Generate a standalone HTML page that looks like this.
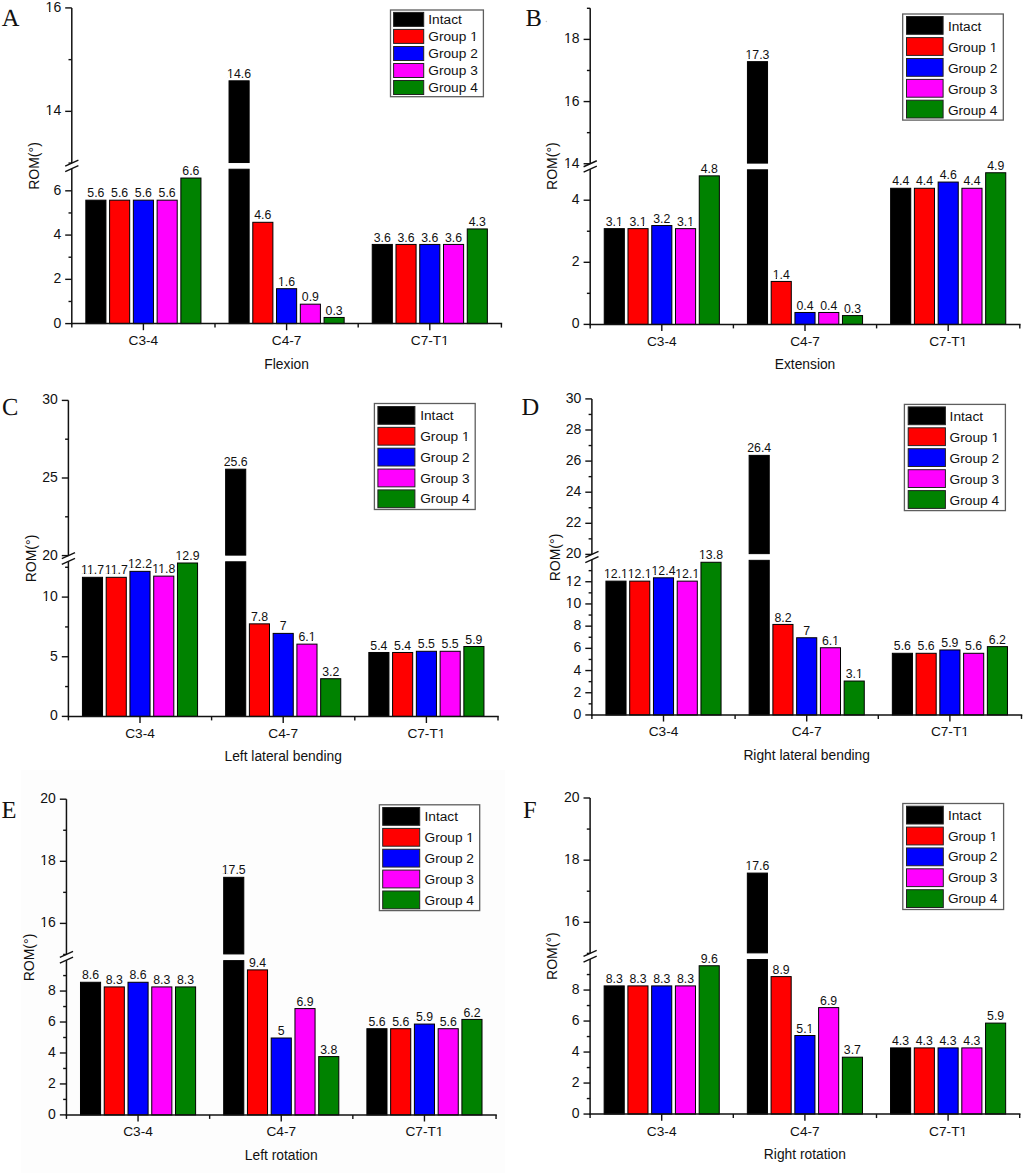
<!DOCTYPE html>
<html><head><meta charset="utf-8"><title>ROM</title>
<style>
html,body{margin:0;padding:0;background:#fff;}
body{width:1024px;height:1173px;overflow:hidden;}
svg{display:block;}
text{font-family:"Liberation Sans",sans-serif;fill:#111;}
.v{font-size:12.3px;text-anchor:middle;}
.tl{font-size:14px;text-anchor:end;}
.cl{font-size:13.7px;text-anchor:middle;}
.xt{font-size:13.8px;text-anchor:middle;}
.lg{font-size:13.7px;}
.rom{font-size:14px;text-anchor:middle;}
.let{font-family:"Liberation Serif",serif;font-size:24.5px;text-rendering:geometricPrecision;}
.ax{stroke:#111;stroke-width:1.5;}
.tk{stroke:#111;stroke-width:1.4;}
.br{stroke:#111;stroke-width:1.4;}
</style></head><body>
<svg width="1024" height="1173" viewBox="0 0 1024 1173">
<rect x="0" y="0" width="1024" height="1173" fill="#fff"/>
<rect x="21" y="770" width="484" height="403" fill="#fdfdfd"/>

<g>
<rect x="85.84" y="200.17" width="20.1" height="123.43" fill="#000000" stroke="#000" stroke-width="1"/>
<text x="95.89" y="197.27" class="v">5.6</text>
<rect x="109.59" y="200.17" width="20.1" height="123.43" fill="#ff0000" stroke="#000" stroke-width="1"/>
<text x="119.64" y="197.27" class="v">5.6</text>
<rect x="133.35" y="200.17" width="20.1" height="123.43" fill="#0000ff" stroke="#000" stroke-width="1"/>
<text x="143.4" y="197.27" class="v">5.6</text>
<rect x="157.11" y="200.17" width="20.1" height="123.43" fill="#ff00ff" stroke="#000" stroke-width="1"/>
<text x="167.16" y="197.27" class="v">5.6</text>
<rect x="180.86" y="178.04" width="20.1" height="145.56" fill="#008200" stroke="#000" stroke-width="1"/>
<text x="190.91" y="175.14" class="v">6.6</text>
<rect x="229.04" y="169.23" width="20.1" height="154.37" fill="#000000" stroke="#000" stroke-width="1"/>
<rect x="229.04" y="80.82" width="20.1" height="81.71" fill="#000000" stroke="#000" stroke-width="1"/>
<text x="239.09" y="77.92" class="v">14.6</text>
<rect x="252.79" y="222.3" width="20.1" height="101.3" fill="#ff0000" stroke="#000" stroke-width="1"/>
<text x="262.84" y="219.4" class="v">4.6</text>
<rect x="276.55" y="288.69" width="20.1" height="34.91" fill="#0000ff" stroke="#000" stroke-width="1"/>
<text x="286.6" y="285.79" class="v">1.6</text>
<rect x="300.31" y="304.18" width="20.1" height="19.42" fill="#ff00ff" stroke="#000" stroke-width="1"/>
<text x="310.36" y="301.28" class="v">0.9</text>
<rect x="324.06" y="317.46" width="20.1" height="6.14" fill="#008200" stroke="#000" stroke-width="1"/>
<text x="334.11" y="314.56" class="v">0.3</text>
<rect x="372.24" y="244.43" width="20.1" height="79.17" fill="#000000" stroke="#000" stroke-width="1"/>
<text x="382.29" y="241.53" class="v">3.6</text>
<rect x="395.99" y="244.43" width="20.1" height="79.17" fill="#ff0000" stroke="#000" stroke-width="1"/>
<text x="406.04" y="241.53" class="v">3.6</text>
<rect x="419.75" y="244.43" width="20.1" height="79.17" fill="#0000ff" stroke="#000" stroke-width="1"/>
<text x="429.8" y="241.53" class="v">3.6</text>
<rect x="443.51" y="244.43" width="20.1" height="79.17" fill="#ff00ff" stroke="#000" stroke-width="1"/>
<text x="453.56" y="241.53" class="v">3.6</text>
<rect x="467.26" y="228.94" width="20.1" height="94.66" fill="#008200" stroke="#000" stroke-width="1"/>
<text x="477.31" y="226.04" class="v">4.3</text>
<line x1="71.8" y1="324.35" x2="71.8" y2="168.69" class="ax"/>
<line x1="71.8" y1="163.07" x2="71.8" y2="7.91" class="ax"/>
<line x1="65.2" y1="171.69" x2="78.4" y2="165.69" class="br"/>
<line x1="65.2" y1="166.07" x2="78.4" y2="160.07" class="br"/>
<line x1="65.2" y1="323.6" x2="71.8" y2="323.6" class="tk"/>
<text x="61.2" y="327.6" class="tl">0</text>
<line x1="65.2" y1="279.34" x2="71.8" y2="279.34" class="tk"/>
<text x="61.2" y="283.34" class="tl">2</text>
<line x1="65.2" y1="235.08" x2="71.8" y2="235.08" class="tk"/>
<text x="61.2" y="239.08" class="tl">4</text>
<line x1="65.2" y1="190.82" x2="71.8" y2="190.82" class="tk"/>
<text x="61.2" y="194.82" class="tl">6</text>
<line x1="68.5" y1="301.47" x2="71.8" y2="301.47" class="tk"/>
<line x1="68.5" y1="257.21" x2="71.8" y2="257.21" class="tk"/>
<line x1="68.5" y1="212.95" x2="71.8" y2="212.95" class="tk"/>
<line x1="65.2" y1="111.35" x2="71.8" y2="111.35" class="tk"/>
<text x="61.2" y="115.35" class="tl">14</text>
<line x1="65.2" y1="7.91" x2="71.8" y2="7.91" class="tk"/>
<text x="61.2" y="11.91" class="tl">16</text>
<line x1="68.5" y1="163.07" x2="71.8" y2="163.07" class="tk"/>
<line x1="68.5" y1="59.63" x2="71.8" y2="59.63" class="tk"/>
<line x1="71.05" y1="323.6" x2="502.15" y2="323.6" class="ax"/>
<line x1="71.8" y1="323.6" x2="71.8" y2="327.6" class="tk"/>
<line x1="215" y1="323.6" x2="215" y2="327.6" class="tk"/>
<line x1="358.2" y1="323.6" x2="358.2" y2="327.6" class="tk"/>
<line x1="501.4" y1="323.6" x2="501.4" y2="327.6" class="tk"/>
<line x1="143.4" y1="323.6" x2="143.4" y2="330.2" class="tk"/>
<text x="143.4" y="345.1" class="cl">C3-4</text>
<line x1="286.6" y1="323.6" x2="286.6" y2="330.2" class="tk"/>
<text x="286.6" y="345.1" class="cl">C4-7</text>
<line x1="429.8" y1="323.6" x2="429.8" y2="330.2" class="tk"/>
<text x="429.8" y="345.1" class="cl">C7-T1</text>
<text x="286.6" y="368.6" class="xt">Flexion</text>
<text transform="translate(39.1 166) rotate(-90)" class="rom">ROM(&#176;)</text>
<text transform="translate(1.8 25.9) scale(1.0 1.0)" class="let">A</text>
<rect x="390.5" y="10" width="92.9" height="86.7" fill="#fff" stroke="#5e5e5e" stroke-width="1.3"/>
<rect x="393.6" y="12.4" width="30.1" height="14" fill="#000000" stroke="#222" stroke-width="1"/>
<text x="428.3" y="24" class="lg">Intact</text>
<rect x="393.6" y="29.4" width="30.1" height="14" fill="#ff0000" stroke="#222" stroke-width="1"/>
<text x="428.3" y="41" class="lg">Group 1</text>
<rect x="393.6" y="46.5" width="30.1" height="14" fill="#0000ff" stroke="#222" stroke-width="1"/>
<text x="428.3" y="58.1" class="lg">Group 2</text>
<rect x="393.6" y="63.5" width="30.1" height="14" fill="#ff00ff" stroke="#222" stroke-width="1"/>
<text x="428.3" y="75.1" class="lg">Group 3</text>
<rect x="393.6" y="80.5" width="30.1" height="14" fill="#008200" stroke="#222" stroke-width="1"/>
<text x="428.3" y="92.1" class="lg">Group 4</text>
</g>
<g>
<rect x="604.24" y="228.64" width="20.1" height="95.75" fill="#000000" stroke="#000" stroke-width="1"/>
<text x="614.29" y="225.74" class="v">3.1</text>
<rect x="627.99" y="228.64" width="20.1" height="95.75" fill="#ff0000" stroke="#000" stroke-width="1"/>
<text x="638.04" y="225.74" class="v">3.1</text>
<rect x="651.75" y="225.54" width="20.1" height="98.86" fill="#0000ff" stroke="#000" stroke-width="1"/>
<text x="661.8" y="222.64" class="v">3.2</text>
<rect x="675.51" y="228.64" width="20.1" height="95.75" fill="#ff00ff" stroke="#000" stroke-width="1"/>
<text x="685.56" y="225.74" class="v">3.1</text>
<rect x="699.26" y="175.86" width="20.1" height="148.54" fill="#008200" stroke="#000" stroke-width="1"/>
<text x="709.31" y="172.96" class="v">4.8</text>
<rect x="747.44" y="169.8" width="20.1" height="154.6" fill="#000000" stroke="#000" stroke-width="1"/>
<rect x="747.44" y="61.65" width="20.1" height="101.45" fill="#000000" stroke="#000" stroke-width="1"/>
<text x="757.49" y="58.75" class="v">17.3</text>
<rect x="771.19" y="281.43" width="20.1" height="42.97" fill="#ff0000" stroke="#000" stroke-width="1"/>
<text x="781.24" y="278.53" class="v">1.4</text>
<rect x="794.95" y="312.48" width="20.1" height="11.92" fill="#0000ff" stroke="#000" stroke-width="1"/>
<text x="805" y="309.58" class="v">0.4</text>
<rect x="818.71" y="312.48" width="20.1" height="11.92" fill="#ff00ff" stroke="#000" stroke-width="1"/>
<text x="828.76" y="309.58" class="v">0.4</text>
<rect x="842.46" y="315.58" width="20.1" height="8.81" fill="#008200" stroke="#000" stroke-width="1"/>
<text x="852.51" y="312.69" class="v">0.3</text>
<rect x="890.64" y="188.28" width="20.1" height="136.12" fill="#000000" stroke="#000" stroke-width="1"/>
<text x="900.69" y="185.38" class="v">4.4</text>
<rect x="914.39" y="188.28" width="20.1" height="136.12" fill="#ff0000" stroke="#000" stroke-width="1"/>
<text x="924.44" y="185.38" class="v">4.4</text>
<rect x="938.15" y="182.07" width="20.1" height="142.33" fill="#0000ff" stroke="#000" stroke-width="1"/>
<text x="948.2" y="179.17" class="v">4.6</text>
<rect x="961.91" y="188.28" width="20.1" height="136.12" fill="#ff00ff" stroke="#000" stroke-width="1"/>
<text x="971.96" y="185.38" class="v">4.4</text>
<rect x="985.66" y="172.75" width="20.1" height="151.65" fill="#008200" stroke="#000" stroke-width="1"/>
<text x="995.71" y="169.85" class="v">4.9</text>
<line x1="590.2" y1="325.15" x2="590.2" y2="169.15" class="ax"/>
<line x1="590.2" y1="163.75" x2="590.2" y2="8.3" class="ax"/>
<line x1="583.6" y1="172.15" x2="596.8" y2="166.15" class="br"/>
<line x1="583.6" y1="166.75" x2="596.8" y2="160.75" class="br"/>
<line x1="583.6" y1="324.4" x2="590.2" y2="324.4" class="tk"/>
<text x="579.6" y="328.4" class="tl">0</text>
<line x1="583.6" y1="262.3" x2="590.2" y2="262.3" class="tk"/>
<text x="579.6" y="266.3" class="tl">2</text>
<line x1="583.6" y1="200.2" x2="590.2" y2="200.2" class="tk"/>
<text x="579.6" y="204.2" class="tl">4</text>
<line x1="586.9" y1="293.35" x2="590.2" y2="293.35" class="tk"/>
<line x1="586.9" y1="231.25" x2="590.2" y2="231.25" class="tk"/>
<line x1="583.6" y1="163.75" x2="590.2" y2="163.75" class="tk"/>
<text x="579.6" y="167.75" class="tl">14</text>
<line x1="583.6" y1="101.57" x2="590.2" y2="101.57" class="tk"/>
<text x="579.6" y="105.57" class="tl">16</text>
<line x1="583.6" y1="39.39" x2="590.2" y2="39.39" class="tk"/>
<text x="579.6" y="43.39" class="tl">18</text>
<line x1="586.9" y1="132.66" x2="590.2" y2="132.66" class="tk"/>
<line x1="586.9" y1="70.48" x2="590.2" y2="70.48" class="tk"/>
<line x1="586.9" y1="8.3" x2="590.2" y2="8.3" class="tk"/>
<line x1="589.45" y1="324.4" x2="1020.55" y2="324.4" class="ax"/>
<line x1="590.2" y1="324.4" x2="590.2" y2="328.4" class="tk"/>
<line x1="733.4" y1="324.4" x2="733.4" y2="328.4" class="tk"/>
<line x1="876.6" y1="324.4" x2="876.6" y2="328.4" class="tk"/>
<line x1="1019.8" y1="324.4" x2="1019.8" y2="328.4" class="tk"/>
<line x1="661.8" y1="324.4" x2="661.8" y2="331" class="tk"/>
<text x="661.8" y="345.9" class="cl">C3-4</text>
<line x1="805" y1="324.4" x2="805" y2="331" class="tk"/>
<text x="805" y="345.9" class="cl">C4-7</text>
<line x1="948.2" y1="324.4" x2="948.2" y2="331" class="tk"/>
<text x="948.2" y="345.9" class="cl">C7-T1</text>
<text x="805" y="369.4" class="xt">Extension</text>
<text transform="translate(556.8 166.1) rotate(-90)" class="rom">ROM(&#176;)</text>
<text transform="translate(525.5 25.9) scale(1.0 1.0)" class="let">B</text>
<rect x="902.7" y="14" width="100.6" height="106.1" fill="#fff" stroke="#5e5e5e" stroke-width="1.3"/>
<rect x="906.5" y="16.5" width="36.6" height="17.8" fill="#000000" stroke="#222" stroke-width="1"/>
<text x="947.9" y="30.8" class="lg">Intact</text>
<rect x="906.5" y="37.6" width="36.6" height="17.8" fill="#ff0000" stroke="#222" stroke-width="1"/>
<text x="947.9" y="51.9" class="lg">Group 1</text>
<rect x="906.5" y="58.5" width="36.6" height="17.8" fill="#0000ff" stroke="#222" stroke-width="1"/>
<text x="947.9" y="72.8" class="lg">Group 2</text>
<rect x="906.5" y="79.4" width="36.6" height="17.8" fill="#ff00ff" stroke="#222" stroke-width="1"/>
<text x="947.9" y="93.7" class="lg">Group 3</text>
<rect x="906.5" y="100.2" width="36.6" height="17.8" fill="#008200" stroke="#222" stroke-width="1"/>
<text x="947.9" y="114.5" class="lg">Group 4</text>
</g>
<g>
<rect x="82.44" y="577.32" width="20.1" height="139.08" fill="#000000" stroke="#000" stroke-width="1"/>
<text x="92.49" y="574.42" class="v">11.7</text>
<rect x="106.19" y="577.32" width="20.1" height="139.08" fill="#ff0000" stroke="#000" stroke-width="1"/>
<text x="116.24" y="574.42" class="v">11.7</text>
<rect x="129.95" y="571.35" width="20.1" height="145.05" fill="#0000ff" stroke="#000" stroke-width="1"/>
<text x="140" y="568.45" class="v">12.2</text>
<rect x="153.71" y="576.13" width="20.1" height="140.27" fill="#ff00ff" stroke="#000" stroke-width="1"/>
<text x="163.76" y="573.23" class="v">11.8</text>
<rect x="177.46" y="563" width="20.1" height="153.4" fill="#008200" stroke="#000" stroke-width="1"/>
<text x="187.51" y="560.1" class="v">12.9</text>
<rect x="225.64" y="561.8" width="20.1" height="154.6" fill="#000000" stroke="#000" stroke-width="1"/>
<rect x="225.64" y="469.19" width="20.1" height="85.92" fill="#000000" stroke="#000" stroke-width="1"/>
<text x="235.69" y="466.29" class="v">25.6</text>
<rect x="249.39" y="623.85" width="20.1" height="92.55" fill="#ff0000" stroke="#000" stroke-width="1"/>
<text x="259.44" y="620.95" class="v">7.8</text>
<rect x="273.15" y="633.39" width="20.1" height="83.01" fill="#0000ff" stroke="#000" stroke-width="1"/>
<text x="283.2" y="630.49" class="v">7</text>
<rect x="296.91" y="644.13" width="20.1" height="72.27" fill="#ff00ff" stroke="#000" stroke-width="1"/>
<text x="306.96" y="641.23" class="v">6.1</text>
<rect x="320.66" y="678.72" width="20.1" height="37.68" fill="#008200" stroke="#000" stroke-width="1"/>
<text x="330.71" y="675.82" class="v">3.2</text>
<rect x="368.84" y="652.48" width="20.1" height="63.92" fill="#000000" stroke="#000" stroke-width="1"/>
<text x="378.89" y="649.58" class="v">5.4</text>
<rect x="392.59" y="652.48" width="20.1" height="63.92" fill="#ff0000" stroke="#000" stroke-width="1"/>
<text x="402.64" y="649.58" class="v">5.4</text>
<rect x="416.35" y="651.28" width="20.1" height="65.12" fill="#0000ff" stroke="#000" stroke-width="1"/>
<text x="426.4" y="648.38" class="v">5.5</text>
<rect x="440.11" y="651.28" width="20.1" height="65.12" fill="#ff00ff" stroke="#000" stroke-width="1"/>
<text x="450.16" y="648.38" class="v">5.5</text>
<rect x="463.86" y="646.51" width="20.1" height="69.89" fill="#008200" stroke="#000" stroke-width="1"/>
<text x="473.91" y="643.61" class="v">5.9</text>
<line x1="68.4" y1="717.15" x2="68.4" y2="561.31" class="ax"/>
<line x1="68.4" y1="555.6" x2="68.4" y2="400.4" class="ax"/>
<line x1="61.8" y1="564.31" x2="75" y2="558.31" class="br"/>
<line x1="61.8" y1="558.6" x2="75" y2="552.6" class="br"/>
<line x1="61.8" y1="716.4" x2="68.4" y2="716.4" class="tk"/>
<text x="57.8" y="720.4" class="tl">0</text>
<line x1="61.8" y1="656.75" x2="68.4" y2="656.75" class="tk"/>
<text x="57.8" y="660.75" class="tl">5</text>
<line x1="61.8" y1="597.1" x2="68.4" y2="597.1" class="tk"/>
<text x="57.8" y="601.1" class="tl">10</text>
<line x1="65.1" y1="686.57" x2="68.4" y2="686.57" class="tk"/>
<line x1="65.1" y1="626.92" x2="68.4" y2="626.92" class="tk"/>
<line x1="65.1" y1="567.27" x2="68.4" y2="567.27" class="tk"/>
<line x1="61.8" y1="555.6" x2="68.4" y2="555.6" class="tk"/>
<text x="57.8" y="559.6" class="tl">20</text>
<line x1="61.8" y1="478" x2="68.4" y2="478" class="tk"/>
<text x="57.8" y="482" class="tl">25</text>
<line x1="61.8" y1="400.4" x2="68.4" y2="400.4" class="tk"/>
<text x="57.8" y="404.4" class="tl">30</text>
<line x1="65.1" y1="516.8" x2="68.4" y2="516.8" class="tk"/>
<line x1="65.1" y1="439.2" x2="68.4" y2="439.2" class="tk"/>
<line x1="67.65" y1="716.4" x2="498.75" y2="716.4" class="ax"/>
<line x1="68.4" y1="716.4" x2="68.4" y2="720.4" class="tk"/>
<line x1="211.6" y1="716.4" x2="211.6" y2="720.4" class="tk"/>
<line x1="354.8" y1="716.4" x2="354.8" y2="720.4" class="tk"/>
<line x1="498" y1="716.4" x2="498" y2="720.4" class="tk"/>
<line x1="140" y1="716.4" x2="140" y2="723" class="tk"/>
<text x="140" y="737.9" class="cl">C3-4</text>
<line x1="283.2" y1="716.4" x2="283.2" y2="723" class="tk"/>
<text x="283.2" y="737.9" class="cl">C4-7</text>
<line x1="426.4" y1="716.4" x2="426.4" y2="723" class="tk"/>
<text x="426.4" y="737.9" class="cl">C7-T1</text>
<text x="283.2" y="761.4" class="xt">Left lateral bending</text>
<text transform="translate(35.8 558.5) rotate(-90)" class="rom">ROM(&#176;)</text>
<text transform="translate(2 414.9) scale(1.0 1.0)" class="let">C</text>
<rect x="374.4" y="403.5" width="100.8" height="106" fill="#fff" stroke="#5e5e5e" stroke-width="1.3"/>
<rect x="377.9" y="406.5" width="37" height="17.8" fill="#000000" stroke="#222" stroke-width="1"/>
<text x="420.2" y="420" class="lg">Intact</text>
<rect x="377.9" y="427.35" width="37" height="17.8" fill="#ff0000" stroke="#222" stroke-width="1"/>
<text x="420.2" y="440.85" class="lg">Group 1</text>
<rect x="377.9" y="448.2" width="37" height="17.8" fill="#0000ff" stroke="#222" stroke-width="1"/>
<text x="420.2" y="461.7" class="lg">Group 2</text>
<rect x="377.9" y="469.05" width="37" height="17.8" fill="#ff00ff" stroke="#222" stroke-width="1"/>
<text x="420.2" y="482.55" class="lg">Group 3</text>
<rect x="377.9" y="489.9" width="37" height="17.8" fill="#008200" stroke="#222" stroke-width="1"/>
<text x="420.2" y="503.4" class="lg">Group 4</text>
</g>
<g>
<rect x="605.94" y="581.14" width="20.1" height="133.81" fill="#000000" stroke="#000" stroke-width="1"/>
<text x="615.99" y="578.24" class="v">12.1</text>
<rect x="629.69" y="581.14" width="20.1" height="133.81" fill="#ff0000" stroke="#000" stroke-width="1"/>
<text x="639.74" y="578.24" class="v">12.1</text>
<rect x="653.45" y="577.81" width="20.1" height="137.14" fill="#0000ff" stroke="#000" stroke-width="1"/>
<text x="663.5" y="574.91" class="v">12.4</text>
<rect x="677.21" y="581.14" width="20.1" height="133.81" fill="#ff00ff" stroke="#000" stroke-width="1"/>
<text x="687.26" y="578.24" class="v">12.1</text>
<rect x="700.96" y="562.27" width="20.1" height="152.68" fill="#008200" stroke="#000" stroke-width="1"/>
<text x="711.01" y="559.37" class="v">13.8</text>
<rect x="749.14" y="560.33" width="20.1" height="154.62" fill="#000000" stroke="#000" stroke-width="1"/>
<rect x="749.14" y="455.38" width="20.1" height="98.25" fill="#000000" stroke="#000" stroke-width="1"/>
<text x="759.19" y="452.48" class="v">26.4</text>
<rect x="772.89" y="624.43" width="20.1" height="90.52" fill="#ff0000" stroke="#000" stroke-width="1"/>
<text x="782.94" y="621.53" class="v">8.2</text>
<rect x="796.65" y="637.75" width="20.1" height="77.2" fill="#0000ff" stroke="#000" stroke-width="1"/>
<text x="806.7" y="634.85" class="v">7</text>
<rect x="820.41" y="647.74" width="20.1" height="67.21" fill="#ff00ff" stroke="#000" stroke-width="1"/>
<text x="830.46" y="644.84" class="v">6.1</text>
<rect x="844.16" y="681.04" width="20.1" height="33.91" fill="#008200" stroke="#000" stroke-width="1"/>
<text x="854.21" y="678.14" class="v">3.1</text>
<rect x="892.34" y="653.29" width="20.1" height="61.66" fill="#000000" stroke="#000" stroke-width="1"/>
<text x="902.39" y="650.39" class="v">5.6</text>
<rect x="916.09" y="653.29" width="20.1" height="61.66" fill="#ff0000" stroke="#000" stroke-width="1"/>
<text x="926.14" y="650.39" class="v">5.6</text>
<rect x="939.85" y="649.96" width="20.1" height="64.99" fill="#0000ff" stroke="#000" stroke-width="1"/>
<text x="949.9" y="647.06" class="v">5.9</text>
<rect x="963.61" y="653.29" width="20.1" height="61.66" fill="#ff00ff" stroke="#000" stroke-width="1"/>
<text x="973.66" y="650.39" class="v">5.6</text>
<rect x="987.36" y="646.63" width="20.1" height="68.32" fill="#008200" stroke="#000" stroke-width="1"/>
<text x="997.41" y="643.73" class="v">6.2</text>
<line x1="591.9" y1="715.7" x2="591.9" y2="559.55" class="ax"/>
<line x1="591.9" y1="554.4" x2="591.9" y2="398.9" class="ax"/>
<line x1="585.3" y1="562.55" x2="598.5" y2="556.55" class="br"/>
<line x1="585.3" y1="557.4" x2="598.5" y2="551.4" class="br"/>
<line x1="585.3" y1="714.95" x2="591.9" y2="714.95" class="tk"/>
<text x="581.3" y="718.95" class="tl">0</text>
<line x1="585.3" y1="692.75" x2="591.9" y2="692.75" class="tk"/>
<text x="581.3" y="696.75" class="tl">2</text>
<line x1="585.3" y1="670.55" x2="591.9" y2="670.55" class="tk"/>
<text x="581.3" y="674.55" class="tl">4</text>
<line x1="585.3" y1="648.35" x2="591.9" y2="648.35" class="tk"/>
<text x="581.3" y="652.35" class="tl">6</text>
<line x1="585.3" y1="626.15" x2="591.9" y2="626.15" class="tk"/>
<text x="581.3" y="630.15" class="tl">8</text>
<line x1="585.3" y1="603.95" x2="591.9" y2="603.95" class="tk"/>
<text x="581.3" y="607.95" class="tl">10</text>
<line x1="585.3" y1="581.75" x2="591.9" y2="581.75" class="tk"/>
<text x="581.3" y="585.75" class="tl">12</text>
<line x1="588.6" y1="703.85" x2="591.9" y2="703.85" class="tk"/>
<line x1="588.6" y1="681.65" x2="591.9" y2="681.65" class="tk"/>
<line x1="588.6" y1="659.45" x2="591.9" y2="659.45" class="tk"/>
<line x1="588.6" y1="637.25" x2="591.9" y2="637.25" class="tk"/>
<line x1="588.6" y1="615.05" x2="591.9" y2="615.05" class="tk"/>
<line x1="588.6" y1="592.85" x2="591.9" y2="592.85" class="tk"/>
<line x1="588.6" y1="570.65" x2="591.9" y2="570.65" class="tk"/>
<line x1="585.3" y1="554.4" x2="591.9" y2="554.4" class="tk"/>
<text x="581.3" y="558.4" class="tl">20</text>
<line x1="585.3" y1="523.3" x2="591.9" y2="523.3" class="tk"/>
<text x="581.3" y="527.3" class="tl">22</text>
<line x1="585.3" y1="492.2" x2="591.9" y2="492.2" class="tk"/>
<text x="581.3" y="496.2" class="tl">24</text>
<line x1="585.3" y1="461.1" x2="591.9" y2="461.1" class="tk"/>
<text x="581.3" y="465.1" class="tl">26</text>
<line x1="585.3" y1="430" x2="591.9" y2="430" class="tk"/>
<text x="581.3" y="434" class="tl">28</text>
<line x1="585.3" y1="398.9" x2="591.9" y2="398.9" class="tk"/>
<text x="581.3" y="402.9" class="tl">30</text>
<line x1="588.6" y1="538.85" x2="591.9" y2="538.85" class="tk"/>
<line x1="588.6" y1="507.75" x2="591.9" y2="507.75" class="tk"/>
<line x1="588.6" y1="476.65" x2="591.9" y2="476.65" class="tk"/>
<line x1="588.6" y1="445.55" x2="591.9" y2="445.55" class="tk"/>
<line x1="588.6" y1="414.45" x2="591.9" y2="414.45" class="tk"/>
<line x1="591.15" y1="714.95" x2="1022.25" y2="714.95" class="ax"/>
<line x1="591.9" y1="714.95" x2="591.9" y2="718.95" class="tk"/>
<line x1="735.1" y1="714.95" x2="735.1" y2="718.95" class="tk"/>
<line x1="878.3" y1="714.95" x2="878.3" y2="718.95" class="tk"/>
<line x1="1021.5" y1="714.95" x2="1021.5" y2="718.95" class="tk"/>
<line x1="663.5" y1="714.95" x2="663.5" y2="721.55" class="tk"/>
<text x="663.5" y="736.45" class="cl">C3-4</text>
<line x1="806.7" y1="714.95" x2="806.7" y2="721.55" class="tk"/>
<text x="806.7" y="736.45" class="cl">C4-7</text>
<line x1="949.9" y1="714.95" x2="949.9" y2="721.55" class="tk"/>
<text x="949.9" y="736.45" class="cl">C7-T1</text>
<text x="806.7" y="759.95" class="xt">Right lateral bending</text>
<text transform="translate(559.55 557.5) rotate(-90)" class="rom">ROM(&#176;)</text>
<text transform="translate(521.4 415.1) scale(1.0 1.0)" class="let">D</text>
<rect x="904.4" y="404.4" width="101" height="106.2" fill="#fff" stroke="#5e5e5e" stroke-width="1.3"/>
<rect x="908.2" y="406.9" width="37.2" height="17.8" fill="#000000" stroke="#222" stroke-width="1"/>
<text x="949.6" y="421.2" class="lg">Intact</text>
<rect x="908.2" y="427.8" width="37.2" height="17.8" fill="#ff0000" stroke="#222" stroke-width="1"/>
<text x="949.6" y="442.1" class="lg">Group 1</text>
<rect x="908.2" y="448.7" width="37.2" height="17.8" fill="#0000ff" stroke="#222" stroke-width="1"/>
<text x="949.6" y="463" class="lg">Group 2</text>
<rect x="908.2" y="469.7" width="37.2" height="17.8" fill="#ff00ff" stroke="#222" stroke-width="1"/>
<text x="949.6" y="484" class="lg">Group 3</text>
<rect x="908.2" y="490.6" width="37.2" height="17.8" fill="#008200" stroke="#222" stroke-width="1"/>
<text x="949.6" y="504.9" class="lg">Group 4</text>
</g>
<g>
<rect x="80.49" y="982.27" width="20.1" height="132.63" fill="#000000" stroke="#000" stroke-width="1"/>
<text x="90.54" y="979.37" class="v">8.6</text>
<rect x="104.24" y="986.92" width="20.1" height="127.98" fill="#ff0000" stroke="#000" stroke-width="1"/>
<text x="114.29" y="984.02" class="v">8.3</text>
<rect x="128" y="982.27" width="20.1" height="132.63" fill="#0000ff" stroke="#000" stroke-width="1"/>
<text x="138.05" y="979.37" class="v">8.6</text>
<rect x="151.76" y="986.92" width="20.1" height="127.98" fill="#ff00ff" stroke="#000" stroke-width="1"/>
<text x="161.81" y="984.02" class="v">8.3</text>
<rect x="175.51" y="986.92" width="20.1" height="127.98" fill="#008200" stroke="#000" stroke-width="1"/>
<text x="185.56" y="984.02" class="v">8.3</text>
<rect x="223.69" y="960.63" width="20.1" height="154.27" fill="#000000" stroke="#000" stroke-width="1"/>
<rect x="223.69" y="877.33" width="20.1" height="76.6" fill="#000000" stroke="#000" stroke-width="1"/>
<text x="233.74" y="874.43" class="v">17.5</text>
<rect x="247.44" y="969.89" width="20.1" height="145.01" fill="#ff0000" stroke="#000" stroke-width="1"/>
<text x="257.49" y="966.99" class="v">9.4</text>
<rect x="271.2" y="1038" width="20.1" height="76.9" fill="#0000ff" stroke="#000" stroke-width="1"/>
<text x="281.25" y="1035.1" class="v">5</text>
<rect x="294.96" y="1008.59" width="20.1" height="106.31" fill="#ff00ff" stroke="#000" stroke-width="1"/>
<text x="305.01" y="1005.69" class="v">6.9</text>
<rect x="318.71" y="1056.58" width="20.1" height="58.32" fill="#008200" stroke="#000" stroke-width="1"/>
<text x="328.76" y="1053.68" class="v">3.8</text>
<rect x="366.89" y="1028.71" width="20.1" height="86.19" fill="#000000" stroke="#000" stroke-width="1"/>
<text x="376.94" y="1025.81" class="v">5.6</text>
<rect x="390.64" y="1028.71" width="20.1" height="86.19" fill="#ff0000" stroke="#000" stroke-width="1"/>
<text x="400.69" y="1025.81" class="v">5.6</text>
<rect x="414.4" y="1024.07" width="20.1" height="90.83" fill="#0000ff" stroke="#000" stroke-width="1"/>
<text x="424.45" y="1021.17" class="v">5.9</text>
<rect x="438.16" y="1028.71" width="20.1" height="86.19" fill="#ff00ff" stroke="#000" stroke-width="1"/>
<text x="448.21" y="1025.81" class="v">5.6</text>
<rect x="461.91" y="1019.42" width="20.1" height="95.48" fill="#008200" stroke="#000" stroke-width="1"/>
<text x="471.96" y="1016.52" class="v">6.2</text>
<line x1="66.45" y1="1115.65" x2="66.45" y2="960.1" class="ax"/>
<line x1="66.45" y1="954.45" x2="66.45" y2="799.2" class="ax"/>
<line x1="59.85" y1="963.1" x2="73.05" y2="957.1" class="br"/>
<line x1="59.85" y1="957.45" x2="73.05" y2="951.45" class="br"/>
<line x1="59.85" y1="1114.9" x2="66.45" y2="1114.9" class="tk"/>
<text x="55.85" y="1118.9" class="tl">0</text>
<line x1="59.85" y1="1083.94" x2="66.45" y2="1083.94" class="tk"/>
<text x="55.85" y="1087.94" class="tl">2</text>
<line x1="59.85" y1="1052.98" x2="66.45" y2="1052.98" class="tk"/>
<text x="55.85" y="1056.98" class="tl">4</text>
<line x1="59.85" y1="1022.02" x2="66.45" y2="1022.02" class="tk"/>
<text x="55.85" y="1026.02" class="tl">6</text>
<line x1="59.85" y1="991.06" x2="66.45" y2="991.06" class="tk"/>
<text x="55.85" y="995.06" class="tl">8</text>
<line x1="63.15" y1="1099.42" x2="66.45" y2="1099.42" class="tk"/>
<line x1="63.15" y1="1068.46" x2="66.45" y2="1068.46" class="tk"/>
<line x1="63.15" y1="1037.5" x2="66.45" y2="1037.5" class="tk"/>
<line x1="63.15" y1="1006.54" x2="66.45" y2="1006.54" class="tk"/>
<line x1="63.15" y1="975.58" x2="66.45" y2="975.58" class="tk"/>
<line x1="59.85" y1="923.4" x2="66.45" y2="923.4" class="tk"/>
<text x="55.85" y="927.4" class="tl">16</text>
<line x1="59.85" y1="861.3" x2="66.45" y2="861.3" class="tk"/>
<text x="55.85" y="865.3" class="tl">18</text>
<line x1="59.85" y1="799.2" x2="66.45" y2="799.2" class="tk"/>
<text x="55.85" y="803.2" class="tl">20</text>
<line x1="63.15" y1="954.45" x2="66.45" y2="954.45" class="tk"/>
<line x1="63.15" y1="892.35" x2="66.45" y2="892.35" class="tk"/>
<line x1="63.15" y1="830.25" x2="66.45" y2="830.25" class="tk"/>
<line x1="65.7" y1="1114.9" x2="496.8" y2="1114.9" class="ax"/>
<line x1="66.45" y1="1114.9" x2="66.45" y2="1118.9" class="tk"/>
<line x1="209.65" y1="1114.9" x2="209.65" y2="1118.9" class="tk"/>
<line x1="352.85" y1="1114.9" x2="352.85" y2="1118.9" class="tk"/>
<line x1="496.05" y1="1114.9" x2="496.05" y2="1118.9" class="tk"/>
<line x1="138.05" y1="1114.9" x2="138.05" y2="1121.5" class="tk"/>
<text x="138.05" y="1136.4" class="cl">C3-4</text>
<line x1="281.25" y1="1114.9" x2="281.25" y2="1121.5" class="tk"/>
<text x="281.25" y="1136.4" class="cl">C4-7</text>
<line x1="424.45" y1="1114.9" x2="424.45" y2="1121.5" class="tk"/>
<text x="424.45" y="1136.4" class="cl">C7-T1</text>
<text x="281.25" y="1159.9" class="xt">Left rotation</text>
<text transform="translate(33.8 957.5) rotate(-90)" class="rom">ROM(&#176;)</text>
<text transform="translate(1.6 817.8) scale(1.0 1.0)" class="let">E</text>
<rect x="379.4" y="804.8" width="100.3" height="105.8" fill="#fff" stroke="#5e5e5e" stroke-width="1.3"/>
<rect x="382.7" y="807.5" width="37" height="17.8" fill="#000000" stroke="#222" stroke-width="1"/>
<text x="424.5" y="821.4" class="lg">Intact</text>
<rect x="382.7" y="828.4" width="37" height="17.8" fill="#ff0000" stroke="#222" stroke-width="1"/>
<text x="424.5" y="842.3" class="lg">Group 1</text>
<rect x="382.7" y="849.25" width="37" height="17.8" fill="#0000ff" stroke="#222" stroke-width="1"/>
<text x="424.5" y="863.15" class="lg">Group 2</text>
<rect x="382.7" y="870.1" width="37" height="17.8" fill="#ff00ff" stroke="#222" stroke-width="1"/>
<text x="424.5" y="884" class="lg">Group 3</text>
<rect x="382.7" y="891" width="37" height="17.8" fill="#008200" stroke="#222" stroke-width="1"/>
<text x="424.5" y="904.9" class="lg">Group 4</text>
</g>
<g>
<rect x="604.14" y="985.9" width="20.1" height="128.15" fill="#000000" stroke="#000" stroke-width="1"/>
<text x="614.19" y="983" class="v">8.3</text>
<rect x="627.89" y="985.9" width="20.1" height="128.15" fill="#ff0000" stroke="#000" stroke-width="1"/>
<text x="637.94" y="983" class="v">8.3</text>
<rect x="651.65" y="985.9" width="20.1" height="128.15" fill="#0000ff" stroke="#000" stroke-width="1"/>
<text x="661.7" y="983" class="v">8.3</text>
<rect x="675.41" y="985.9" width="20.1" height="128.15" fill="#ff00ff" stroke="#000" stroke-width="1"/>
<text x="685.46" y="983" class="v">8.3</text>
<rect x="699.16" y="965.75" width="20.1" height="148.3" fill="#008200" stroke="#000" stroke-width="1"/>
<text x="709.21" y="962.85" class="v">9.6</text>
<rect x="747.34" y="959.57" width="20.1" height="154.48" fill="#000000" stroke="#000" stroke-width="1"/>
<rect x="747.34" y="873.09" width="20.1" height="79.78" fill="#000000" stroke="#000" stroke-width="1"/>
<text x="757.39" y="870.19" class="v">17.6</text>
<rect x="771.09" y="976.6" width="20.1" height="137.45" fill="#ff0000" stroke="#000" stroke-width="1"/>
<text x="781.14" y="973.7" class="v">8.9</text>
<rect x="794.85" y="1035.5" width="20.1" height="78.55" fill="#0000ff" stroke="#000" stroke-width="1"/>
<text x="804.9" y="1032.6" class="v">5.1</text>
<rect x="818.61" y="1007.6" width="20.1" height="106.45" fill="#ff00ff" stroke="#000" stroke-width="1"/>
<text x="828.66" y="1004.7" class="v">6.9</text>
<rect x="842.36" y="1057.2" width="20.1" height="56.85" fill="#008200" stroke="#000" stroke-width="1"/>
<text x="852.41" y="1054.3" class="v">3.7</text>
<rect x="890.54" y="1047.9" width="20.1" height="66.15" fill="#000000" stroke="#000" stroke-width="1"/>
<text x="900.59" y="1045" class="v">4.3</text>
<rect x="914.29" y="1047.9" width="20.1" height="66.15" fill="#ff0000" stroke="#000" stroke-width="1"/>
<text x="924.34" y="1045" class="v">4.3</text>
<rect x="938.05" y="1047.9" width="20.1" height="66.15" fill="#0000ff" stroke="#000" stroke-width="1"/>
<text x="948.1" y="1045" class="v">4.3</text>
<rect x="961.81" y="1047.9" width="20.1" height="66.15" fill="#ff00ff" stroke="#000" stroke-width="1"/>
<text x="971.86" y="1045" class="v">4.3</text>
<rect x="985.56" y="1023.1" width="20.1" height="90.95" fill="#008200" stroke="#000" stroke-width="1"/>
<text x="995.61" y="1020.2" class="v">5.9</text>
<line x1="590.1" y1="1114.8" x2="590.1" y2="959.05" class="ax"/>
<line x1="590.1" y1="953.4" x2="590.1" y2="798" class="ax"/>
<line x1="583.5" y1="962.05" x2="596.7" y2="956.05" class="br"/>
<line x1="583.5" y1="956.4" x2="596.7" y2="950.4" class="br"/>
<line x1="583.5" y1="1114.05" x2="590.1" y2="1114.05" class="tk"/>
<text x="579.5" y="1118.05" class="tl">0</text>
<line x1="583.5" y1="1083.05" x2="590.1" y2="1083.05" class="tk"/>
<text x="579.5" y="1087.05" class="tl">2</text>
<line x1="583.5" y1="1052.05" x2="590.1" y2="1052.05" class="tk"/>
<text x="579.5" y="1056.05" class="tl">4</text>
<line x1="583.5" y1="1021.05" x2="590.1" y2="1021.05" class="tk"/>
<text x="579.5" y="1025.05" class="tl">6</text>
<line x1="583.5" y1="990.05" x2="590.1" y2="990.05" class="tk"/>
<text x="579.5" y="994.05" class="tl">8</text>
<line x1="586.8" y1="1098.55" x2="590.1" y2="1098.55" class="tk"/>
<line x1="586.8" y1="1067.55" x2="590.1" y2="1067.55" class="tk"/>
<line x1="586.8" y1="1036.55" x2="590.1" y2="1036.55" class="tk"/>
<line x1="586.8" y1="1005.55" x2="590.1" y2="1005.55" class="tk"/>
<line x1="586.8" y1="974.55" x2="590.1" y2="974.55" class="tk"/>
<line x1="583.5" y1="922.32" x2="590.1" y2="922.32" class="tk"/>
<text x="579.5" y="926.32" class="tl">16</text>
<line x1="583.5" y1="860.16" x2="590.1" y2="860.16" class="tk"/>
<text x="579.5" y="864.16" class="tl">18</text>
<line x1="583.5" y1="798" x2="590.1" y2="798" class="tk"/>
<text x="579.5" y="802" class="tl">20</text>
<line x1="586.8" y1="953.4" x2="590.1" y2="953.4" class="tk"/>
<line x1="586.8" y1="891.24" x2="590.1" y2="891.24" class="tk"/>
<line x1="586.8" y1="829.08" x2="590.1" y2="829.08" class="tk"/>
<line x1="589.35" y1="1114.05" x2="1020.45" y2="1114.05" class="ax"/>
<line x1="590.1" y1="1114.05" x2="590.1" y2="1118.05" class="tk"/>
<line x1="733.3" y1="1114.05" x2="733.3" y2="1118.05" class="tk"/>
<line x1="876.5" y1="1114.05" x2="876.5" y2="1118.05" class="tk"/>
<line x1="1019.7" y1="1114.05" x2="1019.7" y2="1118.05" class="tk"/>
<line x1="661.7" y1="1114.05" x2="661.7" y2="1120.65" class="tk"/>
<text x="661.7" y="1135.55" class="cl">C3-4</text>
<line x1="804.9" y1="1114.05" x2="804.9" y2="1120.65" class="tk"/>
<text x="804.9" y="1135.55" class="cl">C4-7</text>
<line x1="948.1" y1="1114.05" x2="948.1" y2="1120.65" class="tk"/>
<text x="948.1" y="1135.55" class="cl">C7-T1</text>
<text x="804.9" y="1159.05" class="xt">Right rotation</text>
<text transform="translate(557.05 956.1) rotate(-90)" class="rom">ROM(&#176;)</text>
<text transform="translate(522.9 817.7) scale(1.0 1.0)" class="let">F</text>
<rect x="902.8" y="803.5" width="100.8" height="106" fill="#fff" stroke="#5e5e5e" stroke-width="1.3"/>
<rect x="906.5" y="806.2" width="36.8" height="17.8" fill="#000000" stroke="#222" stroke-width="1"/>
<text x="947.9" y="819.7" class="lg">Intact</text>
<rect x="906.5" y="827.1" width="36.8" height="17.8" fill="#ff0000" stroke="#222" stroke-width="1"/>
<text x="947.9" y="840.6" class="lg">Group 1</text>
<rect x="906.5" y="847.95" width="36.8" height="17.8" fill="#0000ff" stroke="#222" stroke-width="1"/>
<text x="947.9" y="861.45" class="lg">Group 2</text>
<rect x="906.5" y="868.8" width="36.8" height="17.8" fill="#ff00ff" stroke="#222" stroke-width="1"/>
<text x="947.9" y="882.3" class="lg">Group 3</text>
<rect x="906.5" y="889.7" width="36.8" height="17.8" fill="#008200" stroke="#222" stroke-width="1"/>
<text x="947.9" y="903.2" class="lg">Group 4</text>
</g>
<g>
<rect x="227.16" y="76.65" width="3.01" height="2.07" fill="#fff"/>
<rect x="231.35" y="76.65" width="2.86" height="2.07" fill="#fff"/>
<rect x="278.08" y="284.52" width="3.01" height="2.07" fill="#fff"/>
<rect x="282.28" y="284.52" width="2.86" height="2.07" fill="#fff"/>
<rect x="45.79" y="113.95" width="3.30" height="2.20" fill="#fff"/>
<rect x="50.43" y="113.95" width="3.14" height="2.20" fill="#fff"/>
<rect x="45.79" y="10.51" width="3.30" height="2.20" fill="#fff"/>
<rect x="50.43" y="10.51" width="3.14" height="2.20" fill="#fff"/>
<rect x="441.33" y="343.73" width="3.25" height="2.17" fill="#fff"/>
<rect x="445.90" y="343.73" width="3.09" height="2.17" fill="#fff"/>
<rect x="470.29" y="39.63" width="3.25" height="2.17" fill="#fff"/>
<rect x="474.85" y="39.63" width="3.09" height="2.17" fill="#fff"/>
<rect x="616.02" y="224.47" width="3.01" height="2.07" fill="#fff"/>
<rect x="620.22" y="224.47" width="2.86" height="2.07" fill="#fff"/>
<rect x="639.77" y="224.47" width="3.01" height="2.07" fill="#fff"/>
<rect x="643.97" y="224.47" width="2.86" height="2.07" fill="#fff"/>
<rect x="687.29" y="224.47" width="3.01" height="2.07" fill="#fff"/>
<rect x="691.49" y="224.47" width="2.86" height="2.07" fill="#fff"/>
<rect x="745.56" y="57.48" width="3.01" height="2.07" fill="#fff"/>
<rect x="749.75" y="57.48" width="2.86" height="2.07" fill="#fff"/>
<rect x="772.72" y="277.26" width="3.01" height="2.07" fill="#fff"/>
<rect x="776.92" y="277.26" width="2.86" height="2.07" fill="#fff"/>
<rect x="564.19" y="166.35" width="3.30" height="2.20" fill="#fff"/>
<rect x="568.83" y="166.35" width="3.14" height="2.20" fill="#fff"/>
<rect x="564.19" y="104.17" width="3.30" height="2.20" fill="#fff"/>
<rect x="568.83" y="104.17" width="3.14" height="2.20" fill="#fff"/>
<rect x="564.19" y="41.99" width="3.30" height="2.20" fill="#fff"/>
<rect x="568.83" y="41.99" width="3.14" height="2.20" fill="#fff"/>
<rect x="959.73" y="344.53" width="3.25" height="2.17" fill="#fff"/>
<rect x="964.30" y="344.53" width="3.09" height="2.17" fill="#fff"/>
<rect x="989.89" y="50.53" width="3.25" height="2.17" fill="#fff"/>
<rect x="994.45" y="50.53" width="3.09" height="2.17" fill="#fff"/>
<rect x="81.01" y="573.15" width="3.01" height="2.07" fill="#fff"/>
<rect x="85.20" y="573.15" width="2.86" height="2.07" fill="#fff"/>
<rect x="86.93" y="573.15" width="3.01" height="2.07" fill="#fff"/>
<rect x="91.13" y="573.15" width="2.86" height="2.07" fill="#fff"/>
<rect x="104.76" y="573.15" width="3.01" height="2.07" fill="#fff"/>
<rect x="108.95" y="573.15" width="2.86" height="2.07" fill="#fff"/>
<rect x="110.68" y="573.15" width="3.01" height="2.07" fill="#fff"/>
<rect x="114.88" y="573.15" width="2.86" height="2.07" fill="#fff"/>
<rect x="128.07" y="567.18" width="3.01" height="2.07" fill="#fff"/>
<rect x="132.26" y="567.18" width="2.86" height="2.07" fill="#fff"/>
<rect x="152.28" y="571.96" width="3.01" height="2.07" fill="#fff"/>
<rect x="156.47" y="571.96" width="2.86" height="2.07" fill="#fff"/>
<rect x="158.20" y="571.96" width="3.01" height="2.07" fill="#fff"/>
<rect x="162.40" y="571.96" width="2.86" height="2.07" fill="#fff"/>
<rect x="175.58" y="558.83" width="3.01" height="2.07" fill="#fff"/>
<rect x="179.77" y="558.83" width="2.86" height="2.07" fill="#fff"/>
<rect x="308.69" y="639.96" width="3.01" height="2.07" fill="#fff"/>
<rect x="312.89" y="639.96" width="2.86" height="2.07" fill="#fff"/>
<rect x="42.39" y="599.70" width="3.30" height="2.20" fill="#fff"/>
<rect x="47.03" y="599.70" width="3.14" height="2.20" fill="#fff"/>
<rect x="437.93" y="736.53" width="3.25" height="2.17" fill="#fff"/>
<rect x="442.50" y="736.53" width="3.09" height="2.17" fill="#fff"/>
<rect x="462.19" y="439.48" width="3.25" height="2.17" fill="#fff"/>
<rect x="466.75" y="439.48" width="3.09" height="2.17" fill="#fff"/>
<rect x="604.06" y="576.97" width="3.01" height="2.07" fill="#fff"/>
<rect x="608.25" y="576.97" width="2.86" height="2.07" fill="#fff"/>
<rect x="621.15" y="576.97" width="3.01" height="2.07" fill="#fff"/>
<rect x="625.35" y="576.97" width="2.86" height="2.07" fill="#fff"/>
<rect x="627.81" y="576.97" width="3.01" height="2.07" fill="#fff"/>
<rect x="632.00" y="576.97" width="2.86" height="2.07" fill="#fff"/>
<rect x="644.90" y="576.97" width="3.01" height="2.07" fill="#fff"/>
<rect x="649.10" y="576.97" width="2.86" height="2.07" fill="#fff"/>
<rect x="651.57" y="573.64" width="3.01" height="2.07" fill="#fff"/>
<rect x="655.76" y="573.64" width="2.86" height="2.07" fill="#fff"/>
<rect x="675.33" y="576.97" width="3.01" height="2.07" fill="#fff"/>
<rect x="679.52" y="576.97" width="2.86" height="2.07" fill="#fff"/>
<rect x="692.42" y="576.97" width="3.01" height="2.07" fill="#fff"/>
<rect x="696.62" y="576.97" width="2.86" height="2.07" fill="#fff"/>
<rect x="699.08" y="558.10" width="3.01" height="2.07" fill="#fff"/>
<rect x="703.27" y="558.10" width="2.86" height="2.07" fill="#fff"/>
<rect x="832.19" y="643.57" width="3.01" height="2.07" fill="#fff"/>
<rect x="836.39" y="643.57" width="2.86" height="2.07" fill="#fff"/>
<rect x="855.94" y="676.87" width="3.01" height="2.07" fill="#fff"/>
<rect x="860.14" y="676.87" width="2.86" height="2.07" fill="#fff"/>
<rect x="565.89" y="606.55" width="3.30" height="2.20" fill="#fff"/>
<rect x="570.53" y="606.55" width="3.14" height="2.20" fill="#fff"/>
<rect x="565.89" y="584.35" width="3.30" height="2.20" fill="#fff"/>
<rect x="570.53" y="584.35" width="3.14" height="2.20" fill="#fff"/>
<rect x="961.43" y="735.08" width="3.25" height="2.17" fill="#fff"/>
<rect x="966.00" y="735.08" width="3.09" height="2.17" fill="#fff"/>
<rect x="991.59" y="440.73" width="3.25" height="2.17" fill="#fff"/>
<rect x="996.15" y="440.73" width="3.09" height="2.17" fill="#fff"/>
<rect x="221.81" y="873.16" width="3.01" height="2.07" fill="#fdfdfd"/>
<rect x="226.00" y="873.16" width="2.86" height="2.07" fill="#fdfdfd"/>
<rect x="40.44" y="926.00" width="3.30" height="2.20" fill="#fdfdfd"/>
<rect x="45.08" y="926.00" width="3.14" height="2.20" fill="#fdfdfd"/>
<rect x="40.44" y="863.90" width="3.30" height="2.20" fill="#fdfdfd"/>
<rect x="45.08" y="863.90" width="3.14" height="2.20" fill="#fdfdfd"/>
<rect x="435.98" y="1135.03" width="3.25" height="2.17" fill="#fdfdfd"/>
<rect x="440.55" y="1135.03" width="3.09" height="2.17" fill="#fdfdfd"/>
<rect x="466.49" y="840.93" width="3.25" height="2.17" fill="#fff"/>
<rect x="471.05" y="840.93" width="3.09" height="2.17" fill="#fff"/>
<rect x="745.46" y="868.92" width="3.01" height="2.07" fill="#fff"/>
<rect x="749.65" y="868.92" width="2.86" height="2.07" fill="#fff"/>
<rect x="806.63" y="1031.33" width="3.01" height="2.07" fill="#fff"/>
<rect x="810.83" y="1031.33" width="2.86" height="2.07" fill="#fff"/>
<rect x="564.09" y="924.92" width="3.30" height="2.20" fill="#fff"/>
<rect x="568.73" y="924.92" width="3.14" height="2.20" fill="#fff"/>
<rect x="564.09" y="862.76" width="3.30" height="2.20" fill="#fff"/>
<rect x="568.73" y="862.76" width="3.14" height="2.20" fill="#fff"/>
<rect x="959.63" y="1134.18" width="3.25" height="2.17" fill="#fff"/>
<rect x="964.20" y="1134.18" width="3.09" height="2.17" fill="#fff"/>
<rect x="989.89" y="839.23" width="3.25" height="2.17" fill="#fff"/>
<rect x="994.45" y="839.23" width="3.09" height="2.17" fill="#fff"/>
</g>
<circle cx="546.4" cy="21.6" r="0.75" fill="#c4c4c4"/>
</svg></body></html>
